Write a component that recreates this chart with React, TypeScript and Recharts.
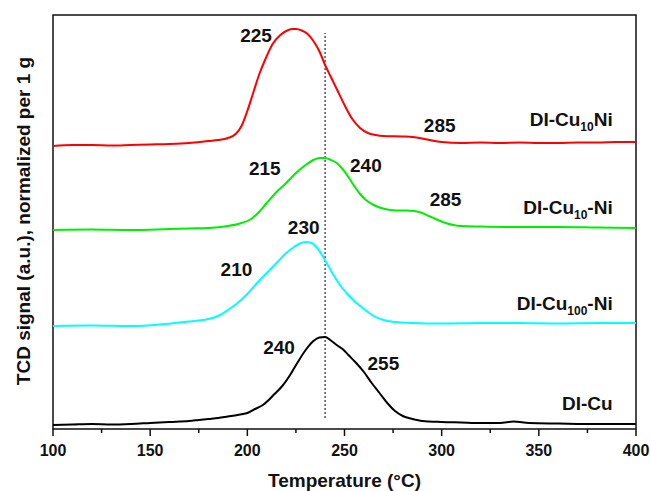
import {
  LineChart,
  Line,
  XAxis,
  YAxis,
  ReferenceLine,
  ReferenceArea,
  ReferenceDot,
} from "recharts";

// temperature (°C) and TCD signal (a.u., offset per curve)
const cuNi10Temps = [100, 110, 120, 130, 140, 150, 160, 170, 180, 185, 190, 194, 197, 200, 203, 206, 210, 213, 217, 220, 223, 225, 228, 231, 234, 237, 240, 243, 246, 250, 254, 258, 262, 266, 270, 280, 285, 290, 295, 300, 310, 320, 330, 340, 350, 360, 370, 380, 390, 400];
const cuNi10Signal = [283, 284, 284, 283.5, 284, 284.5, 285, 286, 288, 289, 291, 295, 303, 318, 336, 354, 373, 385, 394, 398, 400, 400, 398.5, 395, 388, 378, 364, 352, 340, 324, 310, 301, 296, 294, 293, 292.5, 292, 290.5, 288.5, 287, 286, 286.5, 286, 286.5, 286, 286, 286.5, 286.5, 287, 287];

const cu10NiTemps = [100, 120, 140, 160, 170, 180, 190, 197, 202, 206, 210, 215, 220, 225, 230, 234, 237, 240, 243, 246, 249, 252, 255, 258, 261, 265, 268, 272, 277, 282, 286, 290, 294, 298, 302, 306, 310, 320, 340, 360, 380, 400];
const cu10NiSignal = [199, 199.5, 199, 200, 200.5, 201, 203, 206, 210, 217, 226, 237, 246, 256, 264, 269, 271, 271, 269, 266, 260, 252, 243, 235, 229, 224, 221.5, 219.5, 218.5, 218.5, 218, 216, 212.5, 209, 206, 204, 203, 202.5, 202, 202, 201.5, 201];

const cu100NiTemps = [100, 120, 140, 155, 165, 170, 175, 180, 185, 190, 195, 200, 205, 210, 215, 220, 224, 227, 230, 233, 236, 239, 242, 245, 248, 251, 255, 260, 265, 270, 276, 285, 300, 320, 340, 360, 380, 400];
const cu100NiSignal = [103, 103.5, 103, 104.5, 106.5, 107.5, 108.5, 110, 113, 119, 126, 135, 146, 156, 166, 176, 182, 185.5, 187, 186, 181, 172, 162, 152, 143, 136, 128, 120, 113, 109, 107, 106, 105.5, 106, 106, 105.5, 106, 106];

const cuTemps = [100, 110, 120, 130, 140, 150, 160, 170, 175, 180, 185, 190, 195, 200, 204, 208, 211, 214, 218, 222, 226, 230, 234, 237, 240, 243, 246, 249, 252, 256, 260, 264, 268, 272, 276, 280, 285, 290, 300, 310, 320, 330, 337, 345, 360, 380, 400];
const cuSignal = [4, 4.5, 5, 4.5, 5, 6, 7, 8, 9, 10, 11, 12.5, 14, 16, 20, 24, 29, 35, 43, 54, 67, 79, 88, 91.5, 92, 88.5, 84, 80, 74, 66, 57, 46, 36, 26, 18, 13, 10, 8, 7, 6.5, 6, 6, 7.5, 6, 5.5, 5, 5];

const xTicks = [100, 125, 150, 175, 200, 225, 250, 275, 300, 325, 350, 375, 400];

const peakLabels = [
  { t: 204.5, v: 394, text: "225" },
  { t: 299, v: 304, text: "285" },
  { t: 209, v: 261, text: "215" },
  { t: 261, v: 264, text: "240" },
  { t: 302, v: 230, text: "285" },
  { t: 229, v: 202, text: "230" },
  { t: 194.4, v: 160, text: "210" },
  { t: 216.3, v: 82, text: "240" },
  { t: 270, v: 66, text: "255" },
];

const sampleNames = [
  { t: 388, v: 310, base: "DI-Cu", sub: "10", tail: "Ni" },
  { t: 388, v: 222, base: "DI-Cu", sub: "10", tail: "-Ni" },
  { t: 388, v: 126, base: "DI-Cu", sub: "100", tail: "-Ni" },
  { t: 388, v: 26, base: "DI-Cu", sub: "", tail: "" },
];

const toPoints = (ts: number[], vs: number[]) => ts.map((t, i) => ({ t, v: vs[i] }));

const FONT = "'Liberation Sans', Arial, sans-serif";

const XTick = (props: any) => {
  const { x, y, payload } = props;
  const major = payload.value % 50 === 0;
  return (
    <g>
      <line x1={x} x2={x} y1={y} y2={y + (major ? 7 : 4)} stroke="#111" strokeWidth={1.5} />
      {major && (
        <text x={x} y={y + 27} textAnchor="middle" fontFamily={FONT} fontWeight="bold" fontSize={16} fill="#111">
          {payload.value}
        </text>
      )}
    </g>
  );
};

export default function App() {
  return (
    <div style={{ position: "absolute", left: 0, top: 0 }}>
      <LineChart width={651} height={491} margin={{ top: 15, right: 15, bottom: 0, left: 0 }}>
        <XAxis
          type="number"
          dataKey="t"
          domain={[100, 400]}
          ticks={xTicks}
          interval={0}
          allowDataOverflow
          height={62}
          tickSize={0}
          tickMargin={0}
          tickLine={false}
          axisLine={false}
          tick={<XTick />}
          label={{
            value: "Temperature (°C)",
            position: "insideBottom",
            offset: 4,
            fontFamily: FONT,
            fontWeight: "bold",
            fontSize: 19,
            fill: "#111",
          }}
        />
        <YAxis
          type="number"
          domain={[0, 414]}
          allowDataOverflow
          width={53}
          tick={false}
          tickLine={false}
          axisLine={false}
          label={{
            content: () => (
              <text
                transform="translate(30,221) rotate(-90)"
                textAnchor="middle"
                fontFamily={FONT}
                fontWeight="bold"
                fontSize={19}
                fill="#111"
              >
                TCD signal (a.u.), normalized per 1 g
              </text>
            ),
          }}
        />
        <ReferenceArea x1={100} x2={400} y1={0} y2={414} fill="none" stroke="#111" strokeWidth={1.5} />
        <ReferenceLine
          segment={[{ x: 240, y: 11 }, { x: 240, y: 396 }]}
          stroke="#000"
          strokeWidth={1}
          strokeDasharray="2 2"
        />
        <Line data={toPoints(cuNi10Temps, cuNi10Signal)} dataKey="v" type="monotone" stroke="#ff0000" strokeWidth={2} dot={false} isAnimationActive={false} />
        <Line data={toPoints(cu10NiTemps, cu10NiSignal)} dataKey="v" type="monotone" stroke="#00ee00" strokeWidth={2} dot={false} isAnimationActive={false} />
        <Line data={toPoints(cu100NiTemps, cu100NiSignal)} dataKey="v" type="monotone" stroke="#00ffff" strokeWidth={2} dot={false} isAnimationActive={false} />
        <Line data={toPoints(cuTemps, cuSignal)} dataKey="v" type="monotone" stroke="#000000" strokeWidth={2} dot={false} isAnimationActive={false} />
        {peakLabels.map((p, i) => (
          <ReferenceDot
            key={"p" + i}
            x={p.t}
            y={p.v}
            r={0}
            shape={(s: any) => (
              <text x={s.cx} y={s.cy} dy="0.35em" textAnchor="middle" fontFamily={FONT} fontWeight="bold" fontSize={19} fill="#111">
                {p.text}
              </text>
            )}
          />
        ))}
        {sampleNames.map((n, i) => (
          <ReferenceDot
            key={"n" + i}
            x={n.t}
            y={n.v}
            r={0}
            shape={(s: any) => (
              <text x={s.cx} y={s.cy} dy="0.35em" textAnchor="end" fontFamily={FONT} fontWeight="bold" fontSize={19} fill="#111">
                {n.base}
                {n.sub && (
                  <tspan fontSize={12} dy={5}>
                    {n.sub}
                  </tspan>
                )}
                {n.tail && <tspan dy={-5}>{n.tail}</tspan>}
              </text>
            )}
          />
        ))}
      </LineChart>
    </div>
  );
}
